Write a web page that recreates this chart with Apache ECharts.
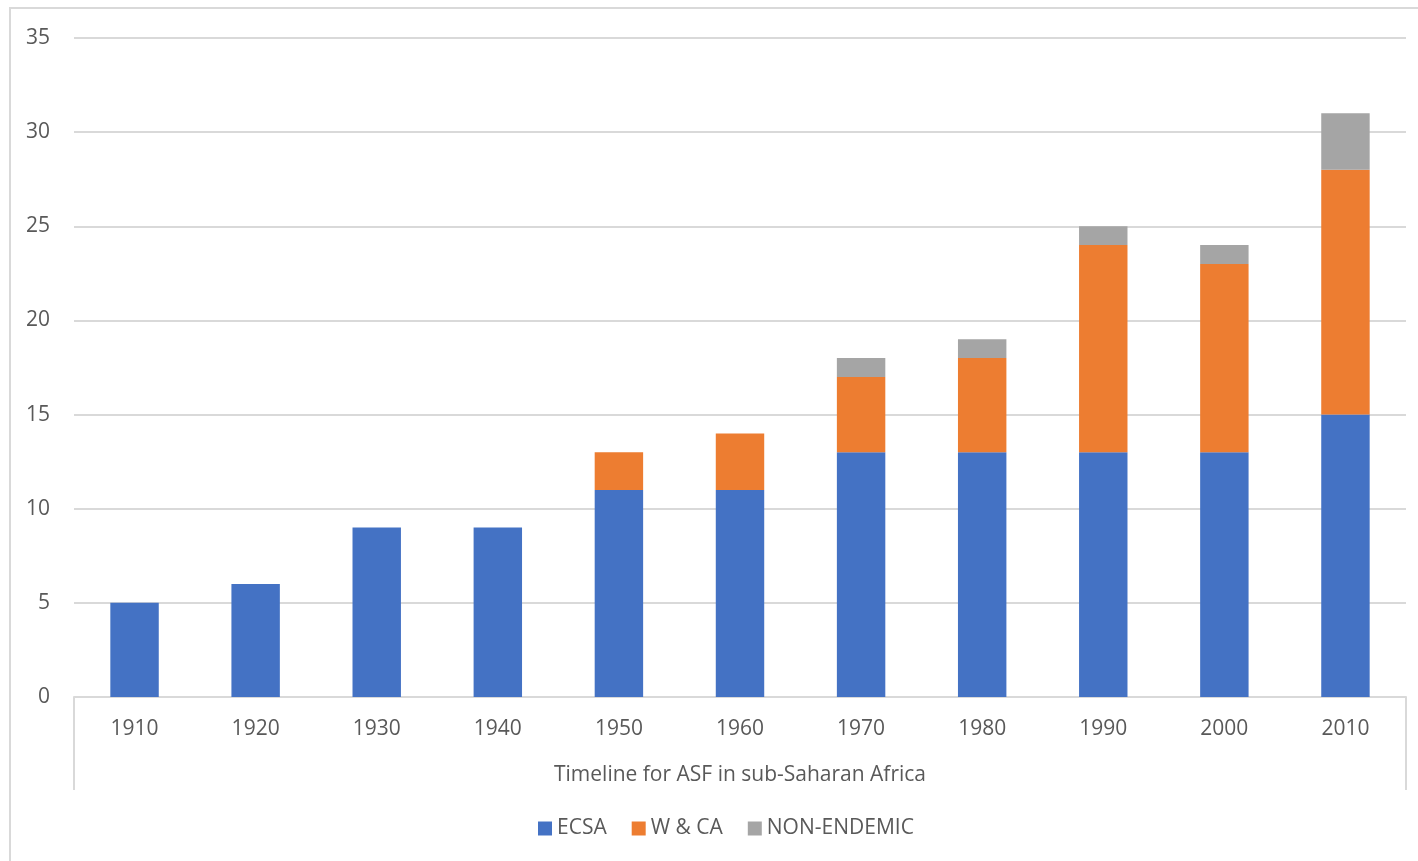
<!DOCTYPE html>
<html>
<head>
<meta charset="utf-8">
<script src="https://cdn.jsdelivr.net/npm/echarts@6/dist/echarts.min.js"></script>
<style>
  html, body { margin: 0; padding: 0; background: #fff; overflow: hidden; }
  #frame { position: absolute; left: 9px; top: 7px; width: 1500px; height: 950px; border: 2px solid #d9d9d9; }
  #chart { position: absolute; left: 0; top: 0; width: 1418px; height: 861px; }
</style>
</head>
<body>
<div id="frame"></div>
<div id="chart"></div>
<script>
// decades on the x axis
const years = ['1910', '1920', '1930', '1940', '1950', '1960', '1970', '1980', '1990', '2000', '2010']
// stacked counts per region
const ecsa = [5, 6, 9, 9, 11, 11, 13, 13, 13, 13, 15]
const wca = [0, 0, 0, 0, 2, 3, 4, 5, 11, 10, 13]
const nonEndemic = [0, 0, 0, 0, 0, 0, 1, 1, 1, 1, 3]

const textColor = '#595959'
const lineColor = '#d9d9d9'
const font = '"Open Sans", sans-serif'

const myChart = echarts.init(document.getElementById('chart'))

const bar = (name, data, color) => ({
  name: name,
  type: 'bar',
  stack: 'total',
  barWidth: '40%',
  data: data,
  itemStyle: { color: color }
})

myChart.setOption({
  animation: false,
  textStyle: { fontFamily: font },
  grid: { left: 74, right: 12, top: 38, bottom: 164 },
  legend: {
    bottom: 17,
    left: 533,
    itemWidth: 14,
    itemHeight: 14,
    itemGap: 25,
    icon: 'rect',
    textStyle: { color: textColor, fontSize: 21, fontFamily: font },
    data: ['ECSA', 'W & CA', 'NON-ENDEMIC']
  },
  xAxis: {
    type: 'category',
    data: years,
    name: 'Timeline for ASF in sub-Saharan Africa',
    nameLocation: 'middle',
    nameGap: 68,
    nameTextStyle: { color: textColor, fontSize: 21 },
    axisLine: { lineStyle: { color: lineColor, width: 2 } },
    // only the two outer boundary ticks, drawn long like the Excel box
    axisTick: {
      show: true,
      length: 93,
      interval: function (i) { return i === 0 },
      lineStyle: { color: lineColor, width: 2 }
    },
    axisLabel: { color: textColor, fontSize: 21, margin: 22 }
  },
  yAxis: {
    type: 'value',
    min: 0,
    max: 35,
    interval: 5,
    axisLine: { show: false },
    axisTick: { show: false },
    axisLabel: { color: textColor, fontSize: 21, margin: 24 },
    splitLine: { lineStyle: { color: lineColor, width: 2 } }
  },
  series: [
    bar('ECSA', ecsa, '#4472c4'),
    bar('W & CA', wca, '#ed7d31'),
    bar('NON-ENDEMIC', nonEndemic, '#a5a5a5')
  ]
})
</script>
</body>
</html>
